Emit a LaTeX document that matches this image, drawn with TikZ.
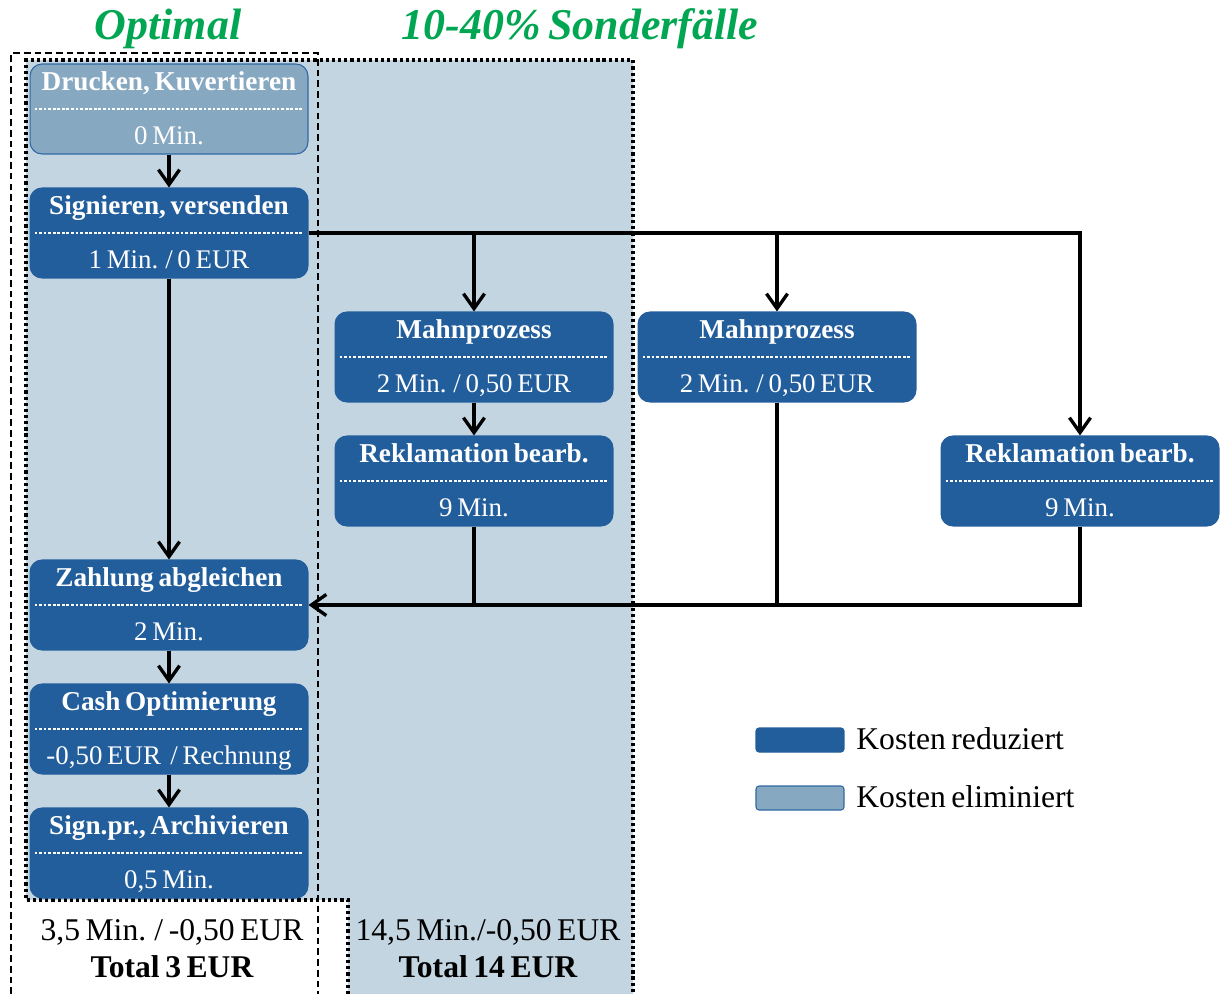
\documentclass[tikz,border=0pt]{standalone}
\usepackage{fontspec}
\setmainfont[WordSpace=0.7]{Liberation Serif}
\usetikzlibrary{arrows.meta}
\definecolor{boxdark}{RGB}{35,94,156}
\definecolor{boxlight}{RGB}{135,168,193}
\definecolor{boxlightedge}{RGB}{46,104,165}
\definecolor{bgblue}{RGB}{195,213,225}
\definecolor{titlegreen}{RGB}{0,166,81}
\newcommand\pbox[6]{%
  \node[#2] (#1) at (#3,{#4+45}) {};
  \draw[sepline] ([xshift=0.1cm]#1.west) -- ([xshift=-0.1cm]#1.east);
  \node[ttl] (#1t) at (#3,{#4+26}) {#5};
  \node[val] (#1v) at (#3,{#4+80}) {#6};
}
\begin{document}
\begin{tikzpicture}[x=0.02cm,y=-0.02cm,
  darkbox/.style={draw=boxdark, fill=boxdark, rounded corners=0.24cm, minimum width=5.56cm, minimum height=1.8cm, inner sep=0pt, line width=0.6pt},
  lightbox/.style={darkbox, fill=boxlight, draw=boxlightedge},
  ttl/.style={anchor=base, text=white, font=\fontsize{15.5}{18}\selectfont\bfseries, inner sep=0pt},
  val/.style={anchor=base, text=white, font=\fontsize{15.3}{18}\selectfont, inner sep=0pt},
  sepline/.style={white, line width=0.6pt, dash pattern=on 1.6pt off 1pt},
  conn/.style={line width=1.9pt, black},
  arr/.style={conn, -{Straight Barb[length=8.5pt,width=12pt]}},
  bigtitle/.style={anchor=base, text=titlegreen, font=\fontsize{25}{28}\selectfont\bfseries\itshape, inner sep=0pt},
  sumtxt/.style={anchor=base, font=\fontsize{18}{20}\selectfont, inner sep=0pt},
  sumbold/.style={sumtxt, font=\fontsize{18}{20}\selectfont\bfseries},
  legtxt/.style={anchor=base west, font=\fontsize{18}{20}\selectfont, inner sep=0pt},
  regdash/.style={line width=1.2pt, dash pattern=on 3.8pt off 2.3pt},
  regdot/.style={line width=1.9pt, dash pattern=on 1.8pt off 1.7pt},
  legdark/.style={draw=boxdark, fill=boxdark, rounded corners=0.06cm, minimum width=1.76cm, minimum height=0.48cm, inner sep=0pt, line width=0.6pt},
  leglight/.style={legdark, fill=boxlight, draw=boxlightedge}
]
\useasboundingbox (0,0) rectangle (1221,994);
% region backgrounds
\fill[bgblue] (26,60) -- (633,60) -- (633,994) -- (348,994) -- (348,900) -- (26,900) -- cycle;
\draw[regdash] (11,994) -- (11,53) -- (318,53) -- (318,994);
\draw[regdot] (348,994) -- (348,900) -- (26,900) -- (26,60) -- (633,60) -- (633,994);
% titles
\node[bigtitle] (opt) at (168,39) {Optimal};
\node[bigtitle] (sond) at (580,39) {10-40\% Sonderfälle};
% boxes
\pbox{d}{lightbox}{169}{64}{Drucken, Kuvertieren}{0 Min.}
\pbox{s}{darkbox}{169}{188}{Signieren, versenden}{1 Min. / 0 EUR}
\pbox{m1}{darkbox}{474}{312}{Mahnprozess}{2 Min. / 0,50 EUR}
\pbox{m2}{darkbox}{777}{312}{Mahnprozess}{2 Min. / 0,50 EUR}
\pbox{r1}{darkbox}{474}{436}{Reklamation bearb.}{9 Min.}
\pbox{r2}{darkbox}{1080}{436}{Reklamation bearb.}{9 Min.}
\pbox{z}{darkbox}{169}{560}{Zahlung abgleichen}{2 Min.}
\pbox{c}{darkbox}{169}{684}{Cash Optimierung}{-0,50 EUR\ \ / Rechnung}
\pbox{a}{darkbox}{169}{808}{Sign.pr., Archivieren}{0,5 Min.}
% connectors
\draw[arr] (d) -- (s);
\draw[arr] (s.east) -| (r2.north);
\draw[arr] (s.east -| m1.north) -- (m1.north);
\draw[arr] (s.east -| m2.north) -- (m2.north);
\draw[arr] (s) -- (z);
\draw[arr] (m1) -- (r1);
\draw[arr] (r2.south) |- (z.east);
\draw[conn] (r1.south) -- (r1.south |- z.east);
\draw[conn] (m2.south) -- (m2.south |- z.east);
\draw[arr] (z) -- (c);
\draw[arr] (c) -- (a);
% totals
\node[sumtxt] (t1) at (172,940) {3,5 Min. / -0,50 EUR};
\node[sumbold] (t2) at (172,977) {Total 3 EUR};
\node[sumtxt] (t3) at (488,940) {14,5 Min./-0,50 EUR};
\node[sumbold] (t4) at (488,977) {Total 14 EUR};
% legend
\node[legdark] (l1) at (800,740) {};
\node[legtxt] (l1t) at (856,749) {Kosten reduziert};
\node[leglight] (l2) at (800,798) {};
\node[legtxt] (l2t) at (856,807) {Kosten eliminiert};
\end{tikzpicture}
\end{document}
